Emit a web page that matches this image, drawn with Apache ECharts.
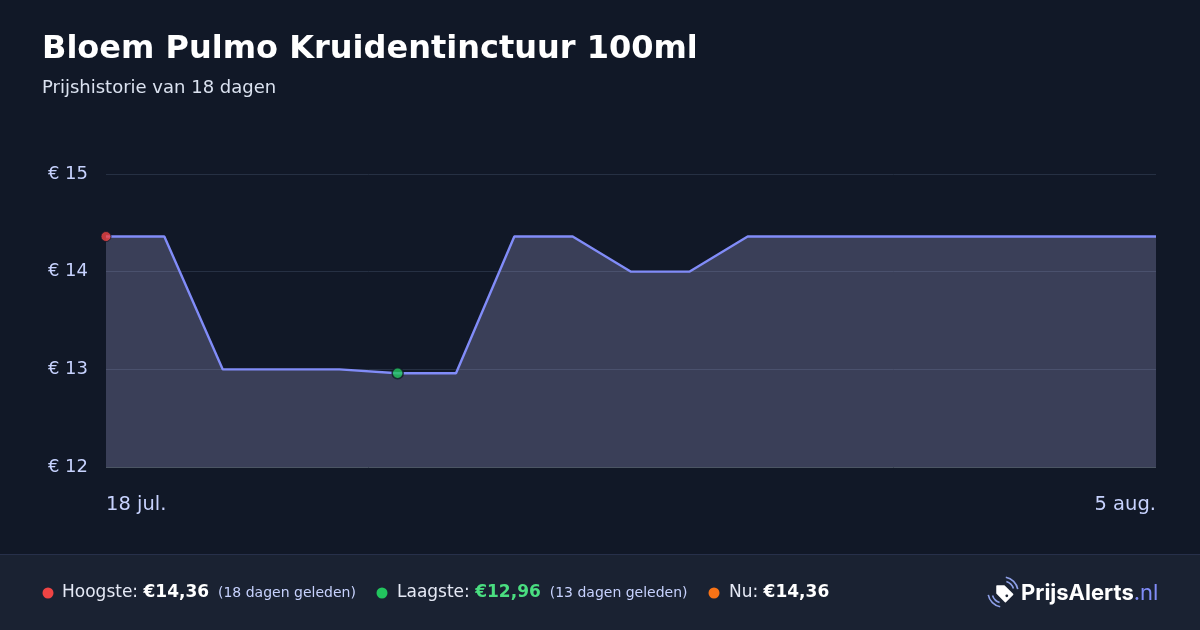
<!DOCTYPE html>
<html>
<head>
<meta charset="utf-8">
<script src="https://cdn.jsdelivr.net/npm/echarts@6/dist/echarts.min.js"></script>
<style>
html,body{margin:0;padding:0;background:#111827;}
#c{width:1200px;height:630px;}
</style>
</head>
<body>
<div id="c"></div>
<script>
const dates = ['18 jul.','19 jul.','20 jul.','21 jul.','22 jul.','23 jul.','24 jul.','25 jul.','26 jul.','27 jul.','28 jul.','29 jul.','30 jul.','31 jul.','1 aug.','2 aug.','3 aug.','4 aug.','5 aug.'];
const prices = [14.36,14.36,13.00,13.00,13.00,12.96,12.96,14.36,14.36,14.00,14.00,14.36,14.36,14.36,14.36,14.36,14.36,14.36,14.36];
const yTicks = [12,13,14,15];
const title = 'Bloem Pulmo Kruidentinctuur 100ml';
const subtitle = 'Prijshistorie van 18 dagen';

const maxV = Math.max(...prices), minV = Math.min(...prices);
const maxI = prices.indexOf(maxV), minI = prices.indexOf(minV);
const nowV = prices[prices.length-1];
const fmt = v => '€' + v.toFixed(2).replace('.', ',');
const font = 'DejaVu Sans';

const chart = echarts.init(document.getElementById('c'));
chart.setOption({
  backgroundColor: '#111827',
  animation: false,
  textStyle: {fontFamily: font},
  title: [
    {text: title, left: 42, top: 34, padding: 0, textStyle: {color: '#ffffff', fontSize: 32, fontWeight: 'bold', fontFamily: font}},
    {text: subtitle, left: 42, top: 79, padding: 0, textStyle: {color: '#dbe2f0', fontSize: 18, fontWeight: 'normal', fontFamily: font}}
  ],
  grid: {left: 106, right: 44, top: 174, bottom: 163},
  xAxis: {
    type: 'category', data: dates, boundaryGap: false,
    axisLine: {show: false}, axisTick: {show: false},
    axisLabel: {
      color: '#c7d2fe', fontSize: 19.5, margin: 28, fontFamily: font,
      interval: (i) => i === 0 || i === dates.length - 1,
      alignMinLabel: 'left', alignMaxLabel: 'right'
    },
    splitLine: {show: false}
  },
  yAxis: {
    type: 'value', min: yTicks[0], max: yTicks[yTicks.length-1], interval: 1,
    axisLine: {show: false}, axisTick: {show: false},
    axisLabel: {color: '#c7d2fe', fontSize: 18, margin: 18, fontFamily: font, formatter: v => '€ ' + v},
    splitLine: {lineStyle: {color: ['#4b5563','#263043','#263043','#263043'], width: 1}}
  },
  series: [
    {
      type: 'line', data: prices, showSymbol: false, symbol: 'none',
      lineStyle: {color: '#818cf8', width: 2.4},
      areaStyle: {color: 'rgba(185,180,235,0.25)', opacity: 1},
      z: 2
    },
    {
      type: 'scatter', z: 5,
      data: [
        {value: [maxI, maxV], symbolSize: 10, itemStyle: {color: '#ef4444', borderColor: '#111827', borderWidth: 1}},
        {value: [minI, minV], symbolSize: 11, itemStyle: {color: '#22c55e', borderColor: '#111827', borderWidth: 1.5}}
      ]
    }
  ],
  graphic: [
    {type: 'rect', shape: {x: 0, y: 554, width: 1200, height: 76}, style: {fill: '#1a2232'}, z: 0, silent: true},
    {type: 'rect', shape: {x: 0, y: 554, width: 1200, height: 1}, style: {fill: '#27304a'}, z: 1, silent: true},
    {type: 'circle', shape: {cx: 48, cy: 593, r: 5.5}, style: {fill: '#ef4444'}},
    {type: 'text', x: 62, y: 593, style: {
      text: '{a|Hoogste: }{b|' + fmt(maxV) + '}{c|  (18 dagen geleden)}',
      verticalAlign: 'middle',
      rich: {
        a: {fill: '#e5e9f5', fontSize: 17, fontFamily: font},
        b: {fill: '#ffffff', fontSize: 17, fontWeight: 'bold', fontFamily: font},
        c: {fill: '#c7d2fe', fontSize: 14, fontFamily: font}
      }}},
    {type: 'circle', shape: {cx: 382, cy: 593, r: 5.5}, style: {fill: '#22c55e'}},
    {type: 'text', x: 397, y: 593, style: {
      text: '{a|Laagste: }{b|' + fmt(minV) + '}{c|  (13 dagen geleden)}',
      verticalAlign: 'middle',
      rich: {
        a: {fill: '#e5e9f5', fontSize: 17, fontFamily: font},
        b: {fill: '#4ade80', fontSize: 17, fontWeight: 'bold', fontFamily: font},
        c: {fill: '#c7d2fe', fontSize: 14, fontFamily: font}
      }}},
    {type: 'circle', shape: {cx: 714, cy: 593, r: 5.5}, style: {fill: '#f97316'}},
    {type: 'text', x: 729, y: 593, style: {
      text: '{a|Nu: }{b|' + fmt(nowV) + '}',
      verticalAlign: 'middle',
      rich: {
        a: {fill: '#e5e9f5', fontSize: 17, fontFamily: font},
        b: {fill: '#ffffff', fontSize: 17, fontWeight: 'bold', fontFamily: font}
      }}},
    // logo icon
    {type: 'group', x: 1003, y: 592, children: [
      {type: 'polygon', shape: {points: [[-6,-6],[1.2,-6],[9.6,2.4],[2.4,9.6],[-6,1.2]], smooth: 0}, style: {fill: '#ffffff', stroke: '#ffffff', lineWidth: 1.5, lineJoin: 'round'}},
      {type: 'circle', shape: {cx: 3.8, cy: 3.8, r: 1.4}, style: {fill: '#1a2232'}},
      {type: 'arc', shape: {cx: 0, cy: 0, r: 11, startAngle: Math.PI*0.6, endAngle: Math.PI*0.9}, style: {stroke: '#8ea0e8', lineWidth: 1.6, fill: null}},
      {type: 'arc', shape: {cx: 0, cy: 0, r: 15, startAngle: Math.PI*0.56, endAngle: Math.PI*0.94}, style: {stroke: '#8ea0e8', lineWidth: 1.6, fill: null}},
      {type: 'arc', shape: {cx: 0, cy: 0, r: 11, startAngle: -Math.PI*0.4, endAngle: -Math.PI*0.1}, style: {stroke: '#8ea0e8', lineWidth: 1.6, fill: null}},
      {type: 'arc', shape: {cx: 0, cy: 0, r: 15, startAngle: -Math.PI*0.44, endAngle: -Math.PI*0.06}, style: {stroke: '#8ea0e8', lineWidth: 1.6, fill: null}}
    ]},
    {type: 'text', x: 1021, y: 593, style: {
      text: '{a|PrijsAlerts}{b|.nl}',
      verticalAlign: 'middle',
      rich: {
        a: {fill: '#ffffff', fontSize: 22, fontWeight: 'bold', fontFamily: 'Inter'},
        b: {fill: '#818cf8', fontSize: 22, fontFamily: 'Inter'}
      }}}
  ]
});
</script>
</body>
</html>
